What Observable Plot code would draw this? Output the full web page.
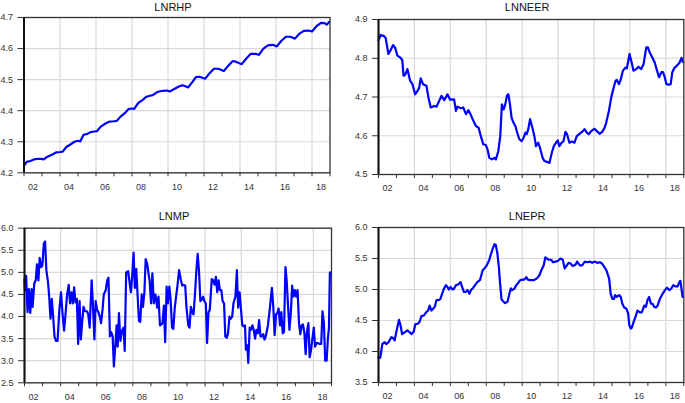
<!DOCTYPE html>
<html><head><meta charset="utf-8">
<script src="https://cdn.jsdelivr.net/npm/d3@7"></script>
<script src="https://cdn.jsdelivr.net/npm/@observablehq/plot@0.6"></script>
<style>
html,body{margin:0;padding:0;background:#fff;}
#wrap{position:relative;width:685px;height:403px;overflow:hidden;background:#fff;}
#wrap svg{position:absolute;}
</style></head><body><div id="wrap"></div>
<script>
// ---- axis / label data ----
const yearTicks = [2002,2003,2004,2005,2006,2007,2008,2009,2010,2011,2012,2013,2014,2015,2016,2017,2018,2019];
const gridYears = [2004,2006,2008,2010,2012,2014,2016,2018];
const labelYears = [2002,2004,2006,2008,2010,2012,2014,2016,2018];
const labelText = ["02","04","06","08","10","12","14","16","18"];

const titles = ["LNRHP","LNNEER","LNMP","LNEPR"];
const yTicksRHP = [4.2,4.3,4.4,4.5,4.6,4.7];
const yTicksNEER = [4.5,4.6,4.7,4.8,4.9];
const yTicksMP = [2.5,3.0,3.5,4.0,4.5,5.0,5.5,6.0];
const yTicksEPR = [3.5,4.0,4.5,5.0,5.5,6.0];

// ---- series: [years since Jan 2002, value] ----
const lnrhp = [[0.00,4.222],[0.15,4.235],[0.35,4.238],[0.55,4.243],[0.75,4.245],[0.95,4.245],[1.10,4.243],[1.30,4.252],[1.55,4.258],[1.80,4.266],[2.00,4.267],[2.15,4.268],[2.35,4.283],[2.60,4.292],[2.80,4.300],[3.00,4.303],[3.12,4.301],[3.30,4.322],[3.50,4.325],[3.70,4.331],[3.90,4.333],[4.05,4.334],[4.25,4.348],[4.50,4.358],[4.75,4.365],[5.00,4.366],[5.15,4.367],[5.35,4.380],[5.60,4.392],[5.80,4.405],[6.00,4.407],[6.12,4.406],[6.35,4.425],[6.60,4.435],[6.80,4.445],[7.00,4.448],[7.15,4.450],[7.40,4.460],[7.70,4.464],[7.95,4.465],[8.10,4.462],[8.35,4.470],[8.60,4.478],[8.80,4.482],[9.00,4.478],[9.12,4.475],[9.35,4.492],[9.55,4.508],[9.75,4.509],[9.95,4.505],[10.07,4.503],[10.30,4.520],[10.55,4.535],[10.80,4.535],[11.00,4.530],[11.10,4.528],[11.35,4.545],[11.60,4.560],[11.80,4.557],[12.00,4.552],[12.10,4.550],[12.35,4.568],[12.60,4.583],[12.85,4.583],[13.05,4.580],[13.30,4.600],[13.55,4.610],[13.80,4.612],[14.05,4.607],[14.30,4.625],[14.55,4.638],[14.80,4.638],[15.05,4.632],[15.30,4.648],[15.55,4.657],[15.80,4.658],[16.00,4.655],[16.25,4.672],[16.50,4.683],[16.70,4.682],[16.82,4.677],[16.96,4.686]];

const lnneer = [[0.00,4.846],[0.12,4.86],[0.31,4.857],[0.40,4.852],[0.55,4.811],[0.68,4.821],[0.81,4.834],[0.92,4.828],[1.05,4.807],[1.24,4.801],[1.33,4.794],[1.39,4.755],[1.48,4.757],[1.61,4.772],[1.76,4.742],[1.89,4.733],[2.04,4.707],[2.17,4.716],[2.26,4.723],[2.35,4.748],[2.48,4.733],[2.67,4.729],[2.78,4.699],[2.91,4.673],[3.10,4.677],[3.23,4.675],[3.38,4.69],[3.51,4.703],[3.66,4.692],[3.84,4.707],[3.99,4.693],[4.21,4.694],[4.31,4.664],[4.40,4.675],[4.59,4.671],[4.72,4.673],[4.87,4.656],[5.01,4.666],[5.14,4.654],[5.24,4.643],[5.42,4.625],[5.57,4.621],[5.70,4.599],[5.83,4.578],[5.98,4.576],[6.07,4.565],[6.17,4.543],[6.32,4.539],[6.45,4.543],[6.54,4.539],[6.67,4.56],[6.78,4.599],[6.87,4.681],[6.97,4.668],[7.06,4.681],[7.15,4.703],[7.23,4.707],[7.32,4.681],[7.41,4.647],[7.51,4.634],[7.62,4.625],[7.75,4.604],[7.84,4.591],[7.97,4.586],[8.08,4.595],[8.18,4.608],[8.25,4.604],[8.34,4.617],[8.44,4.643],[8.59,4.617],[8.68,4.599],[8.77,4.573],[8.90,4.582],[8.99,4.569],[9.14,4.543],[9.24,4.535],[9.42,4.532],[9.52,4.53],[9.65,4.556],[9.76,4.573],[9.89,4.582],[9.98,4.588],[10.07,4.573],[10.20,4.582],[10.30,4.586],[10.41,4.61],[10.50,4.604],[10.63,4.582],[10.77,4.585],[10.91,4.582],[11.04,4.599],[11.19,4.605],[11.38,4.612],[11.47,4.617],[11.60,4.608],[11.71,4.604],[11.84,4.612],[12.03,4.618],[12.16,4.612],[12.31,4.605],[12.46,4.61],[12.59,4.621],[12.68,4.634],[12.83,4.664],[12.96,4.699],[13.09,4.723],[13.20,4.742],[13.27,4.744],[13.39,4.733],[13.48,4.744],[13.61,4.768],[13.76,4.776],[13.83,4.774],[13.98,4.811],[14.07,4.794],[14.20,4.768],[14.35,4.772],[14.48,4.778],[14.63,4.772],[14.76,4.785],[14.91,4.828],[15.00,4.828],[15.10,4.815],[15.25,4.802],[15.38,4.789],[15.51,4.768],[15.62,4.751],[15.75,4.764],[15.84,4.764],[15.94,4.751],[16.03,4.733],[16.18,4.732],[16.27,4.733],[16.36,4.764],[16.49,4.776],[16.62,4.781],[16.77,4.789],[16.87,4.801],[16.96,4.79]];

const lnmp = [[0.00,4.85],[0.02,4.6],[0.09,4.92],[0.17,4.1],[0.24,4.62],[0.32,4.08],[0.39,4.62],[0.45,4.22],[0.54,4.75],[0.62,4.82],[0.69,5.18],[0.77,4.82],[0.84,5.33],[0.92,5.12],[0.99,5.15],[1.07,5.65],[1.14,5.7],[1.21,5.05],[1.29,4.82],[1.36,4.5],[1.44,3.95],[1.51,4.4],[1.59,3.98],[1.66,3.55],[1.74,3.45],[1.83,3.45],[1.93,4.15],[2.02,4.55],[2.11,4.05],[2.19,3.68],[2.26,4.0],[2.36,4.5],[2.45,4.72],[2.52,4.3],[2.60,4.55],[2.67,4.3],[2.75,4.66],[2.82,4.32],[2.90,4.4],[2.97,3.38],[3.05,4.35],[3.12,3.48],[3.20,3.9],[3.27,4.22],[3.35,4.12],[3.46,4.12],[3.53,4.05],[3.61,3.75],[3.72,4.82],[3.79,4.25],[3.87,3.48],[3.94,4.35],[4.02,4.15],[4.09,4.1],[4.17,4.0],[4.24,3.85],[4.32,4.15],[4.39,4.5],[4.50,4.6],[4.58,4.82],[4.65,4.88],[4.73,3.55],[4.80,3.65],[4.88,3.55],[4.95,2.87],[5.03,3.35],[5.10,3.8],[5.16,3.32],[5.23,4.08],[5.31,3.45],[5.38,3.65],[5.48,3.75],[5.55,3.22],[5.63,5.0],[5.74,5.03],[5.81,4.8],[5.89,4.55],[5.96,4.9],[6.04,5.45],[6.11,4.65],[6.19,5.08],[6.26,4.5],[6.34,3.9],[6.41,3.88],[6.49,4.5],[6.56,4.22],[6.64,4.55],[6.71,5.3],[6.79,5.2],[6.86,5.0],[6.93,4.8],[7.01,4.3],[7.08,4.98],[7.16,4.3],[7.25,4.5],[7.35,4.2],[7.42,4.45],[7.50,3.8],[7.57,3.82],[7.64,3.85],[7.72,4.25],[7.79,3.42],[7.87,4.68],[7.94,4.3],[8.02,4.68],[8.09,4.4],[8.17,3.75],[8.24,3.72],[8.32,4.2],[8.47,4.7],[8.56,5.05],[8.65,4.85],[8.73,4.7],[8.80,4.72],[8.90,4.7],[8.97,4.2],[9.07,3.8],[9.14,3.75],[9.21,4.22],[9.29,4.1],[9.36,4.05],[9.44,4.5],[9.51,5.0],[9.59,5.42],[9.66,5.05],[9.74,4.35],[9.81,4.38],[9.89,4.45],[9.96,4.35],[10.04,4.3],[10.11,3.4],[10.19,4.1],[10.26,4.15],[10.37,4.85],[10.45,4.82],[10.52,4.72],[10.60,4.9],[10.67,4.55],[10.75,4.82],[10.82,4.6],[10.90,4.6],[10.97,4.35],[11.05,4.3],[11.12,3.55],[11.20,3.52],[11.27,3.62],[11.35,4.0],[11.42,3.95],[11.50,4.0],[11.57,4.3],[11.68,4.45],[11.76,5.05],[11.83,4.2],[11.91,4.55],[11.98,4.2],[12.06,3.8],[12.13,3.78],[12.21,3.8],[12.26,3.25],[12.34,3.35],[12.39,2.95],[12.47,3.75],[12.54,3.7],[12.62,3.8],[12.69,3.7],[12.77,3.5],[12.84,3.7],[12.92,3.62],[12.99,3.92],[13.07,3.55],[13.14,3.55],[13.22,3.6],[13.29,3.48],[13.36,3.55],[13.48,3.8],[13.59,4.2],[13.70,4.65],[13.78,4.2],[13.85,3.58],[13.93,4.05],[14.00,4.08],[14.07,4.18],[14.15,3.8],[14.22,4.1],[14.30,3.62],[14.37,3.65],[14.45,5.12],[14.52,4.8],[14.60,4.2],[14.67,3.7],[14.75,4.1],[14.82,4.7],[14.90,4.45],[14.97,4.6],[15.05,4.45],[15.12,4.6],[15.20,3.85],[15.27,3.6],[15.35,3.8],[15.42,3.82],[15.50,3.62],[15.57,3.15],[15.64,3.65],[15.72,3.85],[15.79,3.08],[15.87,3.25],[15.94,3.5],[16.02,3.75],[16.09,3.32],[16.17,3.4],[16.24,3.4],[16.32,3.38],[16.43,3.38],[16.50,4.12],[16.58,3.85],[16.65,3.0],[16.73,3.0],[16.80,3.5],[16.86,3.75],[16.91,5.0],[16.96,4.98]];

const lnepr = [[0.00,3.9],[0.09,3.9],[0.15,3.99],[0.21,4.12],[0.34,4.15],[0.43,4.12],[0.56,4.15],[0.71,4.23],[0.80,4.22],[0.90,4.18],[0.99,4.31],[1.14,4.51],[1.23,4.42],[1.31,4.28],[1.46,4.31],[1.60,4.34],[1.74,4.31],[1.83,4.28],[1.96,4.32],[2.05,4.44],[2.20,4.45],[2.29,4.48],[2.39,4.57],[2.52,4.58],[2.67,4.64],[2.76,4.66],[2.85,4.74],[2.95,4.66],[3.04,4.69],[3.13,4.72],[3.23,4.83],[3.36,4.83],[3.45,4.85],[3.54,4.93],[3.64,5.01],[3.75,5.07],[3.84,5.04],[3.92,5.0],[4.01,5.04],[4.12,5.0],[4.20,5.01],[4.31,5.07],[4.44,5.08],[4.57,5.12],[4.68,5.02],[4.76,4.96],[4.85,4.96],[4.96,4.99],[5.06,4.93],[5.15,4.99],[5.28,5.03],[5.37,5.07],[5.50,5.12],[5.65,5.15],[5.80,5.31],[5.90,5.34],[6.03,5.39],[6.16,5.47],[6.25,5.56],[6.36,5.66],[6.46,5.73],[6.53,5.72],[6.62,5.58],[6.70,5.37],[6.77,5.1],[6.85,4.84],[6.92,4.82],[7.05,4.78],[7.18,4.8],[7.29,4.93],[7.37,5.02],[7.44,4.99],[7.56,5.01],[7.67,5.07],[7.76,5.1],[7.89,5.15],[8.00,5.16],[8.12,5.16],[8.23,5.2],[8.32,5.16],[8.45,5.15],[8.64,5.15],[8.82,5.18],[8.96,5.23],[9.07,5.31],[9.20,5.39],[9.29,5.52],[9.38,5.5],[9.48,5.48],[9.61,5.48],[9.72,5.44],[9.85,5.45],[9.98,5.46],[10.13,5.5],[10.26,5.48],[10.37,5.34],[10.47,5.38],[10.58,5.43],[10.69,5.42],[10.82,5.38],[10.97,5.4],[11.06,5.45],[11.21,5.39],[11.34,5.39],[11.49,5.45],[11.62,5.44],[11.77,5.45],[11.90,5.43],[12.03,5.45],[12.18,5.43],[12.33,5.44],[12.44,5.42],[12.56,5.37],[12.69,5.31],[12.84,5.18],[12.93,4.93],[13.02,4.85],[13.12,4.85],[13.17,4.91],[13.27,4.88],[13.40,4.91],[13.49,4.88],[13.58,4.77],[13.68,4.71],[13.81,4.69],[13.90,4.61],[13.97,4.42],[14.05,4.37],[14.10,4.38],[14.20,4.47],[14.33,4.58],[14.42,4.66],[14.55,4.63],[14.66,4.63],[14.80,4.74],[14.89,4.72],[14.98,4.83],[15.07,4.88],[15.17,4.77],[15.26,4.77],[15.35,4.72],[15.45,4.71],[15.54,4.74],[15.67,4.85],[15.82,4.93],[15.95,4.99],[16.06,5.03],[16.19,4.99],[16.29,5.01],[16.42,5.07],[16.53,5.05],[16.66,5.05],[16.75,5.12],[16.81,5.14],[16.88,4.99],[16.93,4.88],[16.97,4.88]];

// ---- drawing ----
const FONT = '"Liberation Sans", Arial, Helvetica, sans-serif';
const labelPos = labelYears.map(y => y + 0.5);
const labelMap = new Map(labelPos.map((p, i) => [p, labelText[i]]));

function panel(cfg) {
  const chart = Plot.plot({
    width: cfg.width, height: cfg.height,
    marginTop: cfg.m[0], marginRight: cfg.m[1], marginBottom: cfg.m[2], marginLeft: cfg.m[3],
    x: {domain: [2002, 2019]},
    y: {domain: [cfg.yTicks[0], cfg.yTicks[cfg.yTicks.length - 1]]},
    style: {fontFamily: FONT, fontSize: "9px", color: "#333", background: "transparent", overflow: "visible"},
    marks: [
      Plot.gridY(cfg.yTicks, {stroke: "#d9d9d9", strokeOpacity: 1, strokeWidth: 1.2}),
      Plot.gridX(gridYears, {stroke: "#d9d9d9", strokeOpacity: 1, strokeWidth: 1.2}),
      Plot.line(cfg.data, {x: d => 2002 + d[0], y: d => d[1], stroke: "#0000ff", strokeWidth: 2.2, strokeLinejoin: "round"}),
      Plot.frame({stroke: "#333", strokeWidth: 1.3}),
      Plot.ruleX([2002], {stroke: "#111", strokeWidth: 2}),
      Plot.axisY(cfg.yTicks, {tickSize: 6, tickPadding: 5, stroke: "#333", tickFormat: d => d.toFixed(1)}),
      Plot.axisX(yearTicks, {tickSize: 4, stroke: "#333", tickFormat: () => ""}),
      Plot.axisX(labelPos, {tickSize: 0, tickPadding: 10.5, tickFormat: d => labelMap.get(d)}),
      Plot.text([cfg.title], {frameAnchor: "top", lineAnchor: "middle", dy: -cfg.titleGap, dx: -4, fontSize: 11, fill: "#111"})
    ]
  });
  chart.style.left = cfg.left + "px";
  chart.style.top = cfg.top + "px";
  document.getElementById("wrap").appendChild(chart);
}

panel({title: titles[0], data: lnrhp, yTicks: yTicksRHP, left: 0, top: 0, width: 345, height: 200, m: [17, 15.5, 27.7, 23.5], titleGap: 10.5});
panel({title: titles[1], data: lnneer, yTicks: yTicksNEER, left: 345, top: 0, width: 340, height: 200, m: [19, 1.7, 26, 33], titleGap: 12.3});
panel({title: titles[2], data: lnmp, yTicks: yTicksMP, left: 0, top: 200, width: 345, height: 203, m: [27.7, 14, 20.7, 24], titleGap: 11.7});
panel({title: titles[3], data: lnepr, yTicks: yTicksEPR, left: 345, top: 200, width: 340, height: 203, m: [27, 1.7, 21, 33], titleGap: 11});
</script></body></html>
